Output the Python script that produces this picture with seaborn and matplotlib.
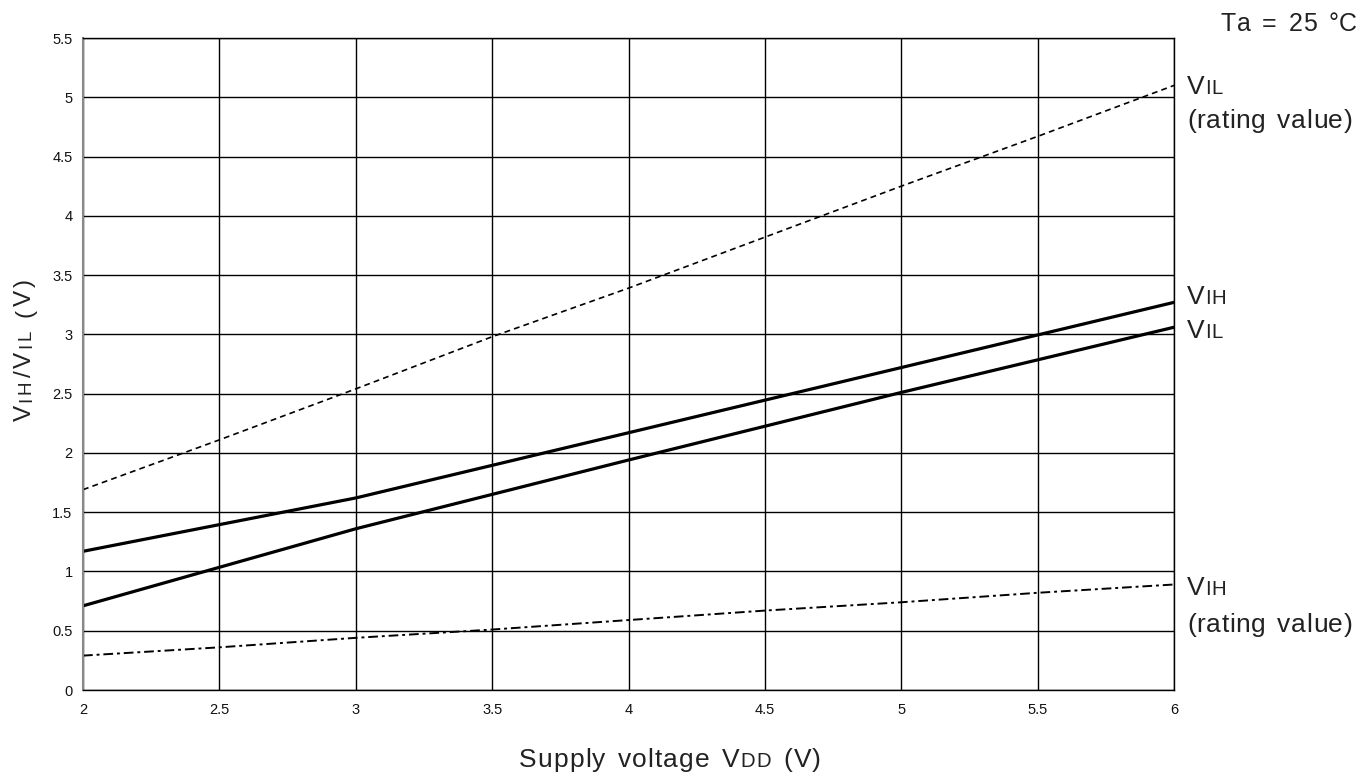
import numpy as np
import pandas as pd
import matplotlib
matplotlib.use('Agg')
import matplotlib.pyplot as plt
import seaborn as sns
from matplotlib.transforms import IdentityTransform

# valores
vdd = [2, 2.5, 3, 3.5, 4, 4.5, 5, 5.5, 6]
vil_rating = [1.69, 2.11, 2.54, 2.98, 3.39, 3.82, 4.25, 4.67, 5.10]
vih_rating = [0.29, 0.36, 0.44, 0.51, 0.59, 0.67, 0.74, 0.82, 0.89]
vdd_meas = [2, 3, 4, 5, 6]
vih_meas = [1.17, 1.62, 2.17, 2.72, 3.27]
vil_meas = [0.71, 1.36, 1.94, 2.51, 3.06]

x_ticks = [2, 2.5, 3, 3.5, 4, 4.5, 5, 5.5, 6]
x_ticklabels = ['2', '2.5', '3', '3.5', '4', '4.5', '5', '5.5', '6']
y_ticks = [0, 0.5, 1, 1.5, 2, 2.5, 3, 3.5, 4, 4.5, 5, 5.5]
y_ticklabels = ['0', '0.5', '1', '1.5', '2', '2.5', '3', '3.5', '4', '4.5', '5', '5.5']

df_rating = pd.DataFrame({'VDD': vdd, 'VIL_rating': vil_rating, 'VIH_rating': vih_rating})
df_meas = pd.DataFrame({'VDD': vdd_meas, 'VIH': vih_meas, 'VIL': vil_meas})

sns.set_style('white')
plt.rcParams['font.family'] = ['Liberation Sans', 'DejaVu Sans']

W, H = 1372, 778
fig = plt.figure(figsize=(W / 100, H / 100), dpi=100)
ax = fig.add_axes([83 / W, 1 - 690 / H, (1174 - 83) / W, (690 - 38) / H])

sns.lineplot(data=df_rating, x='VDD', y='VIL_rating', ax=ax, color='black',
             linewidth=1.2, linestyle=(0, (3.5, 2.5)))
sns.lineplot(data=df_rating, x='VDD', y='VIH_rating', ax=ax, color='black',
             linewidth=1.4, linestyle=(0, (5, 2, 1.5, 2)))
sns.lineplot(data=df_meas, x='VDD', y='VIH', ax=ax, color='black', linewidth=2.3)
sns.lineplot(data=df_meas, x='VDD', y='VIL', ax=ax, color='black', linewidth=2.3)

ax.set_xlim(2, 6)
ax.set_ylim(0, 5.5)
ax.set_xticks(x_ticks)
ax.set_xticklabels(x_ticklabels)
ax.set_yticks(y_ticks)
ax.set_yticklabels(y_ticklabels)
ax.tick_params(length=0, labelsize=10.5, colors='#111111')
ax.tick_params(axis='x', pad=9.5)
ax.tick_params(axis='y', pad=7.5)
ax.grid(True, color='black', linewidth=1.0)
ax.set_axisbelow(True)
ax.set_xlabel('')
ax.set_ylabel('')
for side in ['top', 'right', 'bottom']:
    ax.spines[side].set_color('black')
    ax.spines[side].set_linewidth(1.0)
ax.spines['left'].set_color('#888888')
ax.spines['left'].set_linewidth(1.5)

renderer = fig.canvas.get_renderer()


def char_len(c, size, rot):
    t = fig.text(0, 0, 'n' + c + 'n', fontsize=size, rotation=rot,
                 transform=IdentityTransform())
    bb = t.get_window_extent(renderer)
    t.remove()
    t2 = fig.text(0, 0, 'nn', fontsize=size, rotation=rot, transform=IdentityTransform())
    bb2 = t2.get_window_extent(renderer)
    t2.remove()
    return (bb.width - bb2.width) if rot == 0 else (bb.height - bb2.height)


def rich(x, y, parts, size, rot=0, align='left', track=0.0, space_extra=0.0):
    # texto com "small caps" (VIH etc.), letra a letra
    chars = []
    for s, sc in parts:
        for c in s:
            L = char_len(c, size * sc, rot) + track
            if c == ' ':
                L += space_extra
            chars.append((c, size * sc, L))
    total = sum(L for _, _, L in chars) - track
    pos = {'left': 0, 'center': -total / 2, 'right': -total}[align]
    for c, fsz, L in chars:
        px, py = (x + pos, y) if rot == 0 else (x, y + pos)
        if c != ' ':
            fig.text(px, py, c, fontsize=fsz, rotation=rot,
                     rotation_mode='anchor', ha='left', va='baseline',
                     transform=IdentityTransform(), color='#222222')
        pos += L


sc = 0.77
fs = 19
rich(670, H - 767, [('Supply voltage V', 1), ('DD', sc), (' (V)', 1)], fs, align='center',
     track=1.1, space_extra=3)
rich(31, H - 350, [('V', 1), ('IH', sc), ('/V', 1), ('IL', sc), (' (V)', 1)], 17.5, rot=90,
     align='center', track=3.0)
rich(1357, H - 31, [('Ta = 25 °C', 1)], 18, align='right', track=0.4, space_extra=4)
rich(1187, H - 93.5, [('V', 1), ('IL', sc)], fs, track=0.6)
rich(1187, H - 128, [('(rating value)', 1)], fs, track=0.6, space_extra=3)
rich(1187, H - 304, [('V', 1), ('IH', sc)], fs, track=0.6)
rich(1187, H - 338, [('V', 1), ('IL', sc)], fs, track=0.6)
rich(1187, H - 595, [('V', 1), ('IH', sc)], fs, track=0.6)
rich(1187, H - 632, [('(rating value)', 1)], fs, track=0.6, space_extra=3)

fig.savefig('out.png', dpi=100)
